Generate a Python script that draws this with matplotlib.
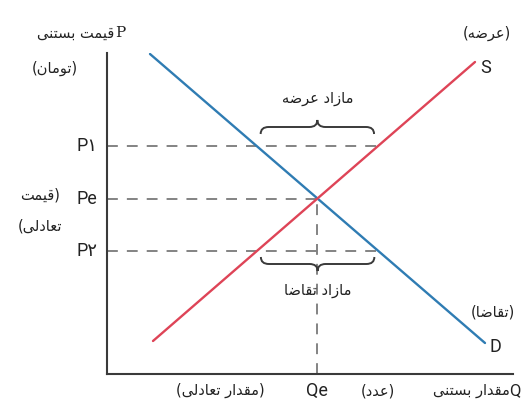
import numpy as np
import matplotlib
matplotlib.use("Agg")
import matplotlib.pyplot as plt
from matplotlib.path import Path
from matplotlib.patches import PathPatch

# ---------------- data ----------------
demand_q = [1.075, 9.45]
demand_p = [8.0, 0.775]
supply_q = [1.15, 9.2]
supply_p = [0.825, 7.8]
P1 = 5.7
Pe = 4.375
P2 = 3.075
Qe = 5.25
price_labels = ["P\u06F1", "Pe", "P\u06F2"]

# ---------------- minimal Persian shaping ----------------
FORMS = {
    'ا': ('\uFE8D', '\uFE8E', None, None),
    'ب': ('\uFE8F', '\uFE90', '\uFE91', '\uFE92'),
    'ت': ('\uFE95', '\uFE96', '\uFE97', '\uFE98'),
    'د': ('\uFEA9', '\uFEAA', None, None),
    'ر': ('\uFEAD', '\uFEAE', None, None),
    'ز': ('\uFEAF', '\uFEB0', None, None),
    'س': ('\uFEB1', '\uFEB2', '\uFEB3', '\uFEB4'),
    'ض': ('\uFEBD', '\uFEBE', '\uFEBF', '\uFEC0'),
    'ع': ('\uFEC9', '\uFECA', '\uFECB', '\uFECC'),
    'ق': ('\uFED5', '\uFED6', '\uFED7', '\uFED8'),
    'ل': ('\uFEDD', '\uFEDE', '\uFEDF', '\uFEE0'),
    'م': ('\uFEE1', '\uFEE2', '\uFEE3', '\uFEE4'),
    'ن': ('\uFEE5', '\uFEE6', '\uFEE7', '\uFEE8'),
    'ه': ('\uFEE9', '\uFEEA', '\uFEEB', '\uFEEC'),
    'و': ('\uFEED', '\uFEEE', None, None),
    'ی': ('\uFEEF', '\uFEF0', '\uFEF3', '\uFEF4'),
}


def fa(s):
    out = []
    n = len(s)
    for i, c in enumerate(s):
        if c not in FORMS:
            out.append(c)
            continue
        iso, fin, ini, med = FORMS[c]
        prev = s[i - 1] if i > 0 else None
        nxt = s[i + 1] if i < n - 1 else None
        jp = prev in FORMS and FORMS[prev][2] is not None
        jn = nxt in FORMS and ini is not None
        if jp and jn:
            g = med
        elif jp:
            g = fin
        elif jn:
            g = ini
        else:
            g = iso
        out.append(g)
    vis = ''.join(out)[::-1]
    return vis.translate(str.maketrans('()', ')('))


# ---------------- figure ----------------
W, H = 524, 405
fig = plt.figure(figsize=(W / 100, H / 100), dpi=100)
ax = fig.add_axes([107 / W, (H - 374) / H, (513 - 107) / W, (374 - 53) / H])
ax.set_xlim(0, 10.15)
ax.set_ylim(0, 8.025)
for s in ("top", "right"):
    ax.spines[s].set_visible(False)
for s in ("left", "bottom"):
    ax.spines[s].set_color("#3a3a3a")
    ax.spines[s].set_linewidth(1.5)
ax.set_xticks([])
ax.set_yticks([])

blue = "#2f7cb3"
red = "#de4457"
dash_c = "#7a7a7a"

ax.plot(demand_q, demand_p, color=blue, lw=1.7, solid_capstyle="round", zorder=3)
ax.plot(supply_q, supply_p, color=red, lw=1.7, solid_capstyle="round", zorder=3)

dq_rev = demand_q[::-1]
dp_rev = demand_p[::-1]
q_s_P1 = np.interp(P1, supply_p, supply_q)
q_d_P1 = np.interp(P1, dp_rev, dq_rev)
q_s_P2 = np.interp(P2, supply_p, supply_q)
q_d_P2 = np.interp(P2, dp_rev, dq_rev)

dash = dict(color=dash_c, lw=1.3, ls=(0, (6, 5)), zorder=2)
ax.plot([0, q_s_P1], [P1, P1], **dash)
ax.plot([0, Qe], [Pe, Pe], **dash)
ax.plot([0, q_d_P2], [P2, P2], **dash)
ax.plot([Qe, Qe], [0, Pe], **dash)


def brace(x0, x1, yb, yt):
    r = 0.2
    xm = (x0 + x1) / 2
    ym = (yb + yt) / 2
    verts = [(x0, yb), (x0, ym), (x0 + r, ym),
             (xm - r, ym), (xm, ym), (xm, yt),
             (xm, ym), (xm + r, ym),
             (x1 - r, ym), (x1, ym), (x1, yb)]
    codes = [Path.MOVETO, Path.CURVE3, Path.CURVE3,
             Path.LINETO, Path.CURVE3, Path.CURVE3,
             Path.CURVE3, Path.CURVE3,
             Path.LINETO, Path.CURVE3, Path.CURVE3]
    ax.add_patch(PathPatch(Path(verts, codes), fill=False, ec="#3a3a3a", lw=1.4, zorder=4))


inset = 0.1
brace(q_d_P1 + inset, q_s_P1 - inset, P1 + 0.3, P1 + 0.65)
brace(q_s_P2 + inset, q_d_P2 - inset, P2 - 0.15, P2 - 0.5)

fa_font = ["DejaVu Sans"]
lat_font = ["Roboto", "DejaVu Sans"]
c_txt = "#222222"
fs = 10.5

ax.text((q_d_P1 + q_s_P1) / 2, 6.9, fa("مازاد عرضه"), ha="center", va="center",
        fontsize=fs, family=fa_font, color=c_txt)
ax.text((q_s_P2 + q_d_P2) / 2, 2.1, fa("مازاد تقاضا"), ha="center", va="center",
        fontsize=fs, family=fa_font, color=c_txt)

# price labels
for lab, p in zip(price_labels, [P1, Pe, P2]):
    ax.text(-0.25, p, lab, ha="right", va="center", fontsize=13, family=lat_font, color=c_txt)

ax.text(-1.675, 4.47, fa("(قیمت"), ha="center", va="center", fontsize=fs, family=fa_font, color=c_txt)
ax.text(-1.675, 3.7, fa("تعادلی)"), ha="center", va="center", fontsize=fs, family=fa_font, color=c_txt)

# axis titles
ax.text(0.33, 8.52, "P", ha="center", va="center", fontsize=11, family=["DejaVu Serif"], color=c_txt)
ax.text(0.17, 8.52, fa("قیمت بستنی"), ha="right", va="center", fontsize=fs, family=fa_font, color=c_txt)
ax.text(-1.3, 7.65, fa("(تومان)"), ha="center", va="center", fontsize=fs, family=fa_font, color=c_txt)

ax.text(Qe, -0.42, "Qe", ha="center", va="center", fontsize=13, family=lat_font, color=c_txt)
ax.text(2.825, -0.42, fa("(مقدار تعادلی)"), ha="center", va="center", fontsize=fs, family=fa_font, color=c_txt)
ax.text(6.78, -0.42, fa("(عدد)"), ha="center", va="center", fontsize=fs, family=fa_font, color=c_txt)
ax.text(10.07, -0.42, fa("مقدار بستنی"), ha="right", va="center", fontsize=fs, family=fa_font, color=c_txt)
ax.text(10.2, -0.42, "Q", ha="center", va="center", fontsize=12, family=lat_font, color=c_txt)

# curve labels
ax.text(9.5, 8.52, fa("(عرضه)"), ha="center", va="center", fontsize=fs, family=fa_font, color=c_txt)
ax.text(9.47, 7.65, "S", ha="center", va="center", fontsize=13, family=lat_font, color=c_txt)
ax.text(9.65, 1.55, fa("(تقاضا)"), ha="center", va="center", fontsize=fs, family=fa_font, color=c_txt)
ax.text(9.72, 0.67, "D", ha="center", va="center", fontsize=13, family=lat_font, color=c_txt)

fig.savefig("out.png", dpi=100)
